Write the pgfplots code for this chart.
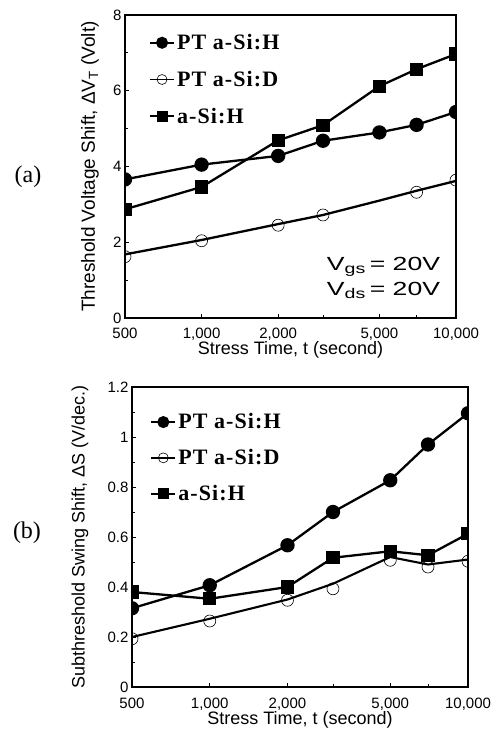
\documentclass[border=0pt]{standalone}
\usepackage{fontspec}
\setmainfont{Liberation Sans}
\newfontfamily\legfont[LetterSpace=5]{Liberation Serif}
\newfontfamily\tnr{Liberation Serif}
\usepackage{pgfplots}
\pgfplotsset{compat=1.18}

\pgfplotsset{
  legend image code/.code={\draw[mark repeat=2,mark phase=2,#1]
    plot coordinates {(0pt,0pt)(12pt,0pt)(24pt,0pt)};},
}

\begin{document}
\begin{tikzpicture}[x=1pt,y=1pt]

% panel (a)
\begin{axis}[
  scale only axis,
  at={(125pt,-318pt)}, anchor=south west,
  width=331pt, height=303pt,
  xmode=log, xmin=500, xmax=10000,
  xtick={500,1000,2000,5000,10000},
  xticklabels={500,{1,000},{2,000},{5,000},{10,000}},
  minor xtick={3000,7000},
  xtick pos=bottom, ytick pos=left,
  tick align=inside,
  major tick length=4pt, minor tick length=3pt,
  every tick/.style={line width=0.8pt, black},
  axis line style={line width=1.3pt},
  /pgf/number format/assume math mode=true,
  tick label style={font=\fontsize{15}{15}\selectfont},
  xticklabel style={yshift=-6pt},
  label style={font=\fontsize{18}{18}\selectfont},
  clip marker paths=true,
  legend cell align=left,
  ymin=0, ymax=8, ytick={0,2,4,6,8}, minor y tick num=1,
  ylabel={Threshold Voltage Shift, ΔV\textsubscript{T} (Volt)},
  ylabel style={at={(axis description cs:-0.106,0.5)}, anchor=center,
    font=\fontsize{19}{19}\selectfont},
  xlabel={Stress Time, t (second)},
  xlabel style={at={(axis description cs:0.5,-0.106)}, anchor=center},
  legend style={draw=none, fill=none, anchor=north west,
    font=\fontsize{22}{24}\selectfont\legfont\bfseries,
    row sep=16pt, at={(axis description cs:0.063,0.95)}},
  ]
  \addlegendimage{black, line width=2pt, mark=*, mark size=5pt}
  \addlegendentry{PT a-Si:H}
  \addlegendimage{black, line width=1.6pt, mark=o, mark size=5pt, mark options={line width=0.6pt}}
  \addlegendentry{PT a-Si:D}
  \addlegendimage{black, line width=2pt, mark=square*, mark size=4.5pt}
  \addlegendentry{a-Si:H}

  \addplot[black, line width=2.3pt, mark=*, mark size=6pt, forget plot] coordinates {
    (500,3.66) (1000,4.05) (2000,4.28) (3000,4.68) (5000,4.90) (7000,5.10) (10000,5.44)};
  \addplot[black, line width=2.3pt, forget plot] coordinates {
    (500,1.68) (1000,2.06) (2000,2.48) (3000,2.72) (5000,3.10) (7000,3.36) (10000,3.62)};
  \addplot[black, only marks, mark=o, mark size=6pt, mark options={line width=0.6pt}, forget plot] coordinates {
    (500,1.62) (1000,2.04) (2000,2.45) (3000,2.72) (7000,3.32) (10000,3.64)};
  \addplot[black, line width=2.3pt, mark=square*, mark size=5.5pt, forget plot] coordinates {
    (500,2.87) (1000,3.46) (2000,4.69) (3000,5.09) (5000,6.12) (7000,6.57) (10000,6.97)};
\end{axis}

% panel (b)
\begin{axis}[
  scale only axis,
  at={(132pt,-687pt)}, anchor=south west,
  width=336pt, height=300pt,
  xmode=log, xmin=500, xmax=10000,
  xtick={500,1000,2000,5000,10000},
  xticklabels={500,{1,000},{2,000},{5,000},{10,000}},
  minor xtick={3000,7000},
  xtick pos=bottom, ytick pos=left,
  tick align=inside,
  major tick length=4pt, minor tick length=3pt,
  every tick/.style={line width=0.8pt, black},
  axis line style={line width=1.3pt},
  /pgf/number format/assume math mode=true,
  tick label style={font=\fontsize{15}{15}\selectfont},
  xticklabel style={yshift=-7pt},
  label style={font=\fontsize{18}{18}\selectfont},
  clip marker paths=true,
  legend cell align=left,
  ymin=0, ymax=1.2, ytick={0,0.2,0.4,0.6,0.8,1,1.2}, minor y tick num=1,
  ylabel={Subthreshold Swing Shift, ΔS (V/dec.)},
  ylabel style={at={(axis description cs:-0.155,0.5)}, anchor=center},
  xlabel={Stress Time, t (second)},
  xlabel style={at={(axis description cs:0.5,-0.11)}, anchor=center},
  legend style={draw=none, fill=none, anchor=north west,
    font=\fontsize{22}{24}\selectfont\legfont\bfseries,
    row sep=15pt, at={(axis description cs:0.045,0.925)}},
  ]
  \addlegendimage{black, line width=2pt, mark=*, mark size=5pt}
  \addlegendentry{PT a-Si:H}
  \addlegendimage{black, line width=1.6pt, mark=o, mark size=5pt, mark options={line width=0.6pt}}
  \addlegendentry{PT a-Si:D}
  \addlegendimage{black, line width=2pt, mark=square*, mark size=4.5pt}
  \addlegendentry{a-Si:H}

  \addplot[black, line width=2.3pt, mark=*, mark size=6pt, forget plot] coordinates {
    (500,0.315) (1000,0.407) (2000,0.567) (3000,0.700) (5000,0.827) (7000,0.970) (10000,1.095)};
  \addplot[black, line width=2.1pt, forget plot] coordinates {
    (500,0.200) (1000,0.273) (2000,0.350) (3000,0.413) (5000,0.520) (7000,0.490) (10000,0.510)};
  \addplot[black, only marks, mark=o, mark size=6pt, mark options={line width=0.6pt}, forget plot] coordinates {
    (500,0.193) (1000,0.264) (2000,0.347) (3000,0.393) (5000,0.507) (7000,0.480) (10000,0.503)};
  \addplot[black, line width=2.3pt, mark=square*, mark size=5.5pt, forget plot] coordinates {
    (500,0.380) (1000,0.353) (2000,0.400) (3000,0.517) (5000,0.543) (7000,0.527) (10000,0.613)};
\end{axis}

% annotations
\node[anchor=west, xscale=1.4, font=\fontsize{19}{20}\selectfont] at (322pt,-267pt)
  {V\raisebox{-0.3ex}{\fontsize{14}{14}\selectfont gs}\,= 20V};
\node[anchor=west, xscale=1.4, font=\fontsize{19}{20}\selectfont] at (322pt,-290pt)
  {V\raisebox{-0.3ex}{\fontsize{14}{14}\selectfont ds}\,= 20V};
\node[font=\fontsize{24}{24}\selectfont\tnr] at (28pt,-177pt) {(a)};
\node[font=\fontsize{24}{24}\selectfont\tnr] at (27pt,-533pt) {(b)};

\pgfresetboundingbox
\path[use as bounding box] (0,0) rectangle (499pt,-740pt);
\end{tikzpicture}
\end{document}
